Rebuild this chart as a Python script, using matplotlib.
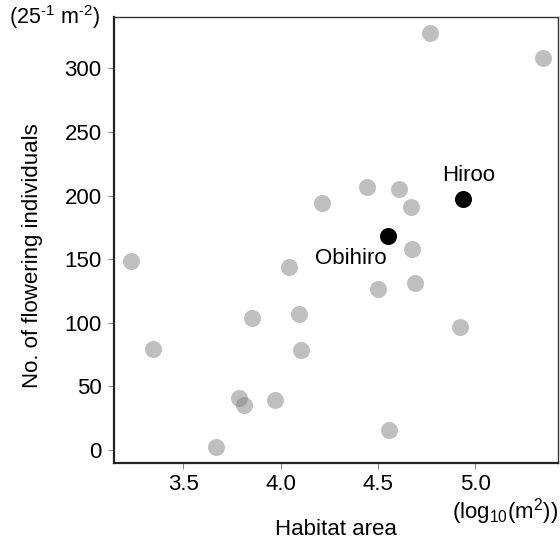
#!/usr/bin/env python3

# flowering individuals vs habitat area, with two named sites highlighted

import matplotlib
matplotlib.use('Agg')
import matplotlib.pyplot as plt

plt.rcParams['font.family'] = ['Liberation Sans', 'DejaVu Sans']
plt.rcParams['mathtext.fontset'] = 'custom'
plt.rcParams['mathtext.rm'] = 'Liberation Sans'
plt.rcParams['mathtext.it'] = 'Liberation Sans'

# other sites
log_area = [3.230, 3.343, 3.666, 3.785, 3.810, 3.851, 3.973, 4.045, 4.096, 4.103,
            4.211, 4.446, 4.610, 4.670, 4.674, 4.691, 4.499, 4.559, 4.768, 5.350, 4.922]
flowering = [148.5, 79.4, 2.4, 41.1, 35.6, 104.0, 39.1, 143.6, 106.9, 78.4,
             194.4, 206.5, 204.9, 190.8, 158.2, 131.0, 126.3, 16.0, 327.5, 307.9, 96.9]

# named sites
site_names = ['Obihiro', 'Hiroo']
site_area = [4.553, 4.936]
site_flowering = [168.2, 197.0]
label_offsets = [(-27, -16), (4, 17)]  # points, relative to each marker

FS = 16

fig = plt.figure(figsize=(5.6, 5.41), dpi=100)
ax = fig.add_axes([0.2036, 0.1436, 0.7923, 0.8255])

ax.scatter(log_area, flowering, s=150, color='#808080', alpha=0.5, linewidths=0, zorder=2)
ax.scatter(site_area, site_flowering, s=150, color='black', linewidths=0, zorder=3)

for name, x, y, off in zip(site_names, site_area, site_flowering, label_offsets):
    ax.annotate(name, (x, y), xytext=off, textcoords='offset points',
                ha='center', va='center', fontsize=FS)

ax.set_xlim(3.144, 5.425)
ax.set_ylim(-10.5, 340.6)
ax.set_xticks([3.5, 4.0, 4.5, 5.0])
ax.set_xticklabels(['3.5', '4.0', '4.5', '5.0'])
ax.set_yticks([0, 50, 100, 150, 200, 250, 300])

for s in ax.spines.values():
    s.set_linewidth(1.0)
    s.set_color('#333333')
ax.spines['left'].set_linewidth(1.6)
ax.spines['bottom'].set_linewidth(1.6)
ax.spines['left'].set_color('#222222')
ax.spines['bottom'].set_color('#222222')

ax.tick_params(axis='both', direction='out', length=4, width=0.8, color='#888888',
               labelsize=FS, labelcolor='black')
ax.tick_params(axis='y', pad=5)
ax.tick_params(axis='x', pad=4)

ax.set_xlabel('Habitat area', fontsize=FS)
ax.xaxis.set_label_coords(0.5, -0.125)
ax.set_ylabel('No. of flowering individuals', fontsize=FS)
ax.yaxis.set_label_coords(-0.16, 0.466)

fig.text(55 / 560, 1 - 17 / 541, r'(25$^{\text{-1}}$ m$^{\text{-2}}$)',
         ha='center', va='center', fontsize=15.5)
fig.text(558 / 560, 1 - 512 / 541, r'(log$_{10}$(m$^2$))',
         ha='right', va='center', fontsize=FS)

fig.savefig('out.png', dpi=100)
